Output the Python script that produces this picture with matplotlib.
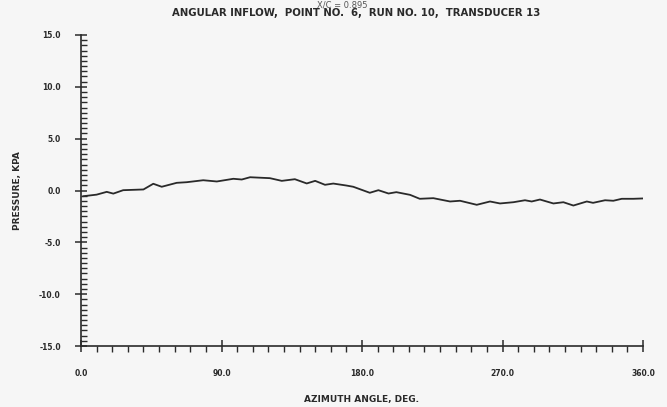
import matplotlib
matplotlib.use("Agg")
import matplotlib.pyplot as plt
from matplotlib.ticker import MultipleLocator, FormatStrFormatter

# azimuth angle (deg) and pressure (kPa), transducer 13
azimuth = [1.5, 10, 16.5, 20.7, 27, 40, 46.3, 51.7, 61.3, 67.7, 78.3, 87, 97.6, 103,
           108.3, 121, 128.6, 137, 144.6, 150, 156.3, 161.6, 170, 174.4, 185, 190.5,
           197, 202, 210.8, 217, 225.7, 236.4, 242.8, 253.5, 262, 268.4, 277, 284.4,
           288.7, 294, 302.6, 309, 315.4, 324, 328, 335.7, 341, 346.4, 353.8, 359.5]
pressure = [-0.55, -0.4, -0.13, -0.3, 0.03, 0.1, 0.65, 0.36, 0.74, 0.8, 0.99, 0.87, 1.13, 1.06,
            1.28, 1.19, 0.93, 1.09, 0.68, 0.93, 0.55, 0.67, 0.48, 0.36, -0.22, 0.03,
            -0.29, -0.16, -0.42, -0.8, -0.74, -1.06, -0.99, -1.38, -1.06, -1.25, -1.13, -0.94,
            -1.06, -0.87, -1.25, -1.13, -1.45, -1.06, -1.19, -0.94, -0.99, -0.8, -0.8, -0.77]

title = "ANGULAR INFLOW,  POINT NO.  6,  RUN NO. 10,  TRANSDUCER 13"
subtitle = "X/C = 0.895"

bg = "#f6f6f6"
ink = "#2a2a2a"
plt.rcParams["font.family"] = "DejaVu Sans"
plt.rcParams["font.weight"] = "bold"
plt.rcParams["axes.labelweight"] = "bold"

fig = plt.figure(figsize=(6.67, 4.07), dpi=100, facecolor=bg)
ax = fig.add_axes([81 / 667, 1 - 346 / 407, (643 - 81) / 667, (346 - 35) / 407])
ax.set_facecolor(bg)

ax.plot(azimuth, pressure, color=ink, lw=1.3)

ax.set_xlim(0, 360)
ax.set_ylim(-15, 15)
for s in ["top", "right"]:
    ax.spines[s].set_visible(False)
for s in ["left", "bottom"]:
    ax.spines[s].set_color(ink)
    ax.spines[s].set_linewidth(1.2)

ax.xaxis.set_major_locator(MultipleLocator(90))
ax.xaxis.set_minor_locator(MultipleLocator(10))
ax.yaxis.set_major_locator(MultipleLocator(5))
ax.yaxis.set_minor_locator(MultipleLocator(0.5))
ax.xaxis.set_major_formatter(FormatStrFormatter("%.1f"))
ax.yaxis.set_major_formatter(FormatStrFormatter("%.1f"))

ax.tick_params(axis="x", which="major", direction="inout", length=9, width=1.1,
               color=ink, labelsize=5.5, pad=12, labelcolor=ink)
ax.tick_params(axis="x", which="minor", direction="out", length=4, width=1.0, color=ink)
ax.tick_params(axis="y", which="major", direction="inout", length=9, width=1.1,
               color=ink, labelsize=5.5, pad=10, labelcolor=ink)
ax.tick_params(axis="y", which="minor", direction="in", length=4, width=1.0, color=ink)

ax.set_xlabel("AZIMUTH ANGLE, DEG.", fontsize=6.5, color=ink, labelpad=12)
ax.set_ylabel("PRESSURE, KPA", fontsize=6.5, color=ink, labelpad=12)

fig.text(356 / 667, 1 - 13 / 407, title, ha="center", va="center",
         fontsize=7.3, color=ink)
fig.text(342 / 667, 1 - 0.5 / 407, subtitle, ha="center", va="top",
         fontsize=6, color="#555555", fontweight="normal")

fig.savefig("out.png", dpi=100, facecolor=bg)
